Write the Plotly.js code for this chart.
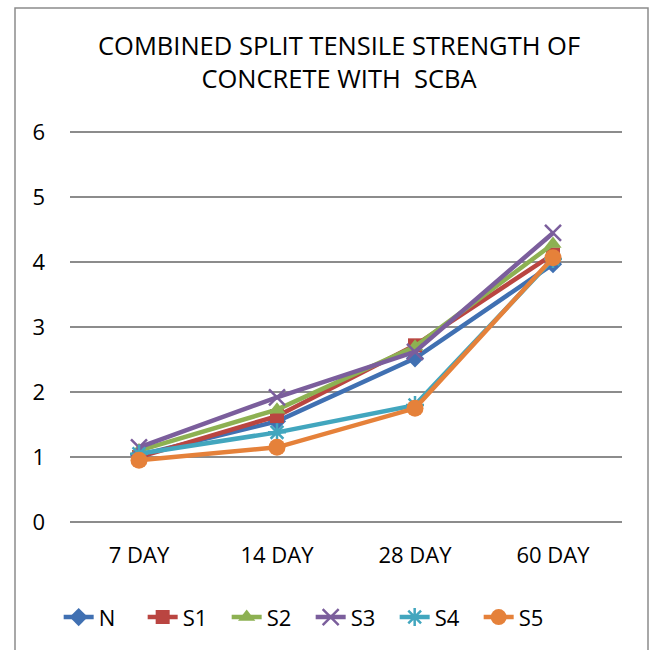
<!DOCTYPE html>
<html><head><meta charset="utf-8">
<script src="https://cdn.plot.ly/plotly-3.0.1.min.js"></script>
<style>html,body{margin:0;padding:0;background:#fff}#c{width:652px;height:650px}</style>
</head><body><div id="c"></div>
<script>
const categories = ["7 DAY", "14 DAY", "28 DAY", "60 DAY"];
const seriesNames = ["N", "S1", "S2", "S3", "S4", "S5"];
const N  = [1.03, 1.55, 2.52, 3.97];
const S1 = [1.00, 1.63, 2.72, 4.12];
const S2 = [1.10, 1.73, 2.70, 4.28];
const S3 = [1.15, 1.92, 2.62, 4.45];
const S4 = [1.05, 1.38, 1.80, 4.05];
const S5 = [0.95, 1.15, 1.75, 4.07];
const values = [N, S1, S2, S3, S4, S5];
const colors = ["#4070B2", "#BA4541", "#8DB152", "#7B5E9C", "#42A6BE", "#E5813A"];
const symbols = ["diamond", "square", "triangle-up", "x-thin-open", "asterisk-open", "circle"];
const sizes = [14, 14, 15, 16, 15, 17];

const FONT = "Open Sans, Liberation Sans, sans-serif";
const traces = seriesNames.map((n, i) => ({
  type: "scatter", mode: "lines+markers", name: n,
  x: categories, y: values[i],
  line: {color: colors[i], width: 4.5},
  marker: {symbol: symbols[i], size: sizes[i], color: colors[i],
           line: {color: colors[i], width: (i === 3 || i === 4) ? 2.5 : 0}}
}));

const layout = {
  width: 652, height: 650,
  paper_bgcolor: "#fff", plot_bgcolor: "#fff",
  margin: {l: 70, r: 30, t: 131, b: 128, autoexpand: false},
  title: {text: "COMBINED SPLIT TENSILE STRENGTH OF<br>CONCRETE WITH  SCBA",
          font: {family: FONT, size: 25.5, color: "#000"},
          x: 0.52, xanchor: "center", y: 0.915, yanchor: "top"},
  xaxis: {type: "category", range: [-0.5, 3.5], showgrid: false, zeroline: false, showline: false,
          ticks: "", ticklabelstandoff: 18,
          tickfont: {family: FONT, size: 22, color: "#000"}, fixedrange: true},
  yaxis: {range: [0, 6.02], dtick: 1, showgrid: true, gridcolor: "#8c8c8c", gridwidth: 2,
          zeroline: true, zerolinecolor: "#8c8c8c", zerolinewidth: 2,
          showline: false, ticks: "", ticklabelstandoff: 24,
          tickfont: {family: FONT, size: 22, color: "#000"}, fixedrange: true},
  showlegend: true,
  legend: {orientation: "h", x: 0.436, xanchor: "center", y: -0.19, yanchor: "top",
           font: {family: FONT, size: 22, color: "#000"},
           entrywidth: 39, entrywidthmode: "pixels", itemwidth: 30, tracegroupgap: 0},
  shapes: [{type: "rect", xref: "paper", yref: "paper",
            x0: (15 - 70) / 552, x1: (648 - 70) / 552,
            y0: (522 - 652) / 391, y1: (522 - 8) / 391,
            line: {color: "#8c8c8c", width: 1.5}}]
};
Plotly.newPlot("c", traces, layout, {displayModeBar: false, staticPlot: true});
</script></body></html>
